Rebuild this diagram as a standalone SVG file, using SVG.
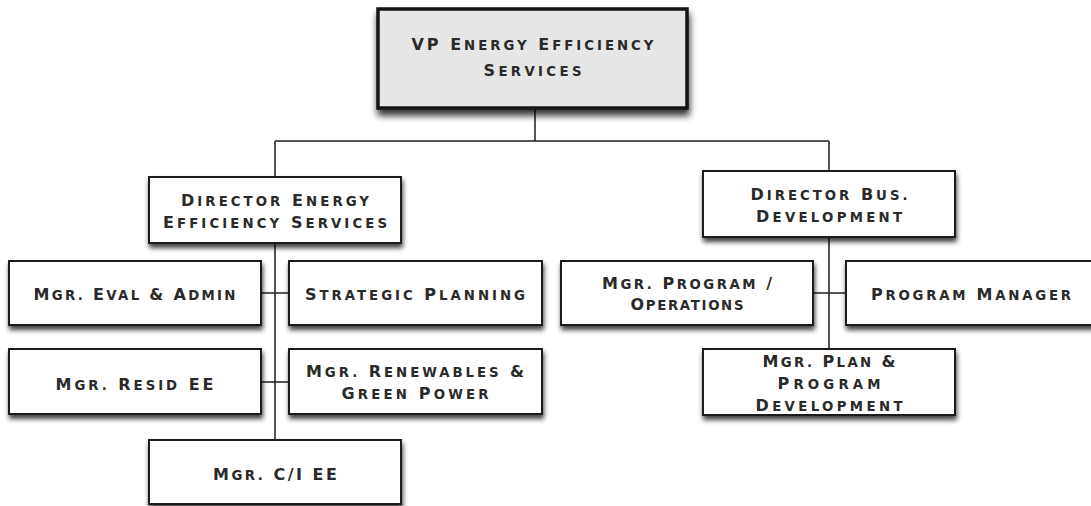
<svg xmlns="http://www.w3.org/2000/svg" width="1091" height="506" viewBox="0 0 1091 506">
  <defs>
    <filter id="shadow" x="-10%" y="-20%" width="125%" height="160%">
      <feGaussianBlur in="SourceAlpha" stdDeviation="2.6"/>
      <feOffset dx="1" dy="4" result="blur"/>
      <feComponentTransfer><feFuncA type="linear" slope="0.75"/></feComponentTransfer>
      <feMerge><feMergeNode/><feMergeNode in="SourceGraphic"/></feMerge>
    </filter>
    <filter id="shadow-lg" x="-10%" y="-20%" width="125%" height="160%">
      <feGaussianBlur in="SourceAlpha" stdDeviation="3.5"/>
      <feOffset dx="1" dy="6" result="blur"/>
      <feComponentTransfer><feFuncA type="linear" slope="0.8"/></feComponentTransfer>
      <feMerge><feMergeNode/><feMergeNode in="SourceGraphic"/></feMerge>
    </filter>
  </defs>
  <style>
    .box { fill: #ffffff; stroke: #1c1c1c; stroke-width: 2; filter: url(#shadow); }
    .top { fill: #e6e6e6; stroke: #141414; stroke-width: 3.5; filter: url(#shadow-lg); }
    .lbl { font-family: "DejaVu Sans", "Liberation Sans", sans-serif; font-size: 16px; font-weight: bold;
           fill: #2a2a2a; text-anchor: middle; }
    .s { font-size: 13.3px; }
    .wire { fill: none; stroke: #1e1e1e; stroke-width: 1.5; }
  </style>
  <rect width="1091" height="506" fill="#ffffff"/>

  <!-- connectors -->
  <g id="connectors" class="wire">
    <path d="M535 108 V141 M275 141 H829 M275 141 V177 M829 141 V171"/>
    <path d="M275 243 V440 M261 293 H289 M261 382 H289"/>
    <path d="M829 237 V349 M813 293 H846"/>
  </g>

  <!-- small-caps labels: initials at full size, remaining letters in .s -->
  <g id="vp-energy-efficiency">
    <rect class="top" x="378" y="9" width="309" height="99"/>
    <text class="lbl" x="532.5" y="50" textLength="242" lengthAdjust="spacing">VP E<tspan class="s">NERGY</tspan> E<tspan class="s">FFICIENCY</tspan></text>
    <text class="lbl" x="532.5" y="76" textLength="98" lengthAdjust="spacing">S<tspan class="s">ERVICES</tspan></text>
  </g>

  <g id="director-ee">
    <rect class="box" x="149" y="177" width="252" height="66"/>
    <text class="lbl" x="275" y="206" textLength="188" lengthAdjust="spacing">D<tspan class="s">IRECTOR</tspan> E<tspan class="s">NERGY</tspan></text>
    <text class="lbl" x="275" y="228" textLength="224" lengthAdjust="spacing">E<tspan class="s">FFICIENCY</tspan> S<tspan class="s">ERVICES</tspan></text>
  </g>

  <g id="director-bus-dev">
    <rect class="box" x="703" y="171" width="252" height="66"/>
    <text class="lbl" x="829" y="199.5" textLength="157" lengthAdjust="spacing">D<tspan class="s">IRECTOR</tspan> B<tspan class="s">US.</tspan></text>
    <text class="lbl" x="829" y="221.5" textLength="146" lengthAdjust="spacing">D<tspan class="s">EVELOPMENT</tspan></text>
  </g>

  <g id="mgr-eval-admin">
    <rect class="box" x="9" y="261" width="252" height="64"/>
    <text class="lbl" x="134.5" y="299.5" textLength="202" lengthAdjust="spacing">M<tspan class="s">GR.</tspan> E<tspan class="s">VAL</tspan> &amp; A<tspan class="s">DMIN</tspan></text>
  </g>

  <g id="strategic-planning">
    <rect class="box" x="289" y="261" width="253" height="64"/>
    <text class="lbl" x="415" y="299.5" textLength="220" lengthAdjust="spacing">S<tspan class="s">TRATEGIC</tspan> P<tspan class="s">LANNING</tspan></text>
  </g>

  <g id="mgr-resid-ee">
    <rect class="box" x="9" y="349" width="252" height="65"/>
    <text class="lbl" x="134.5" y="389.5" textLength="158" lengthAdjust="spacing">M<tspan class="s">GR.</tspan> R<tspan class="s">ESID</tspan> EE</text>
  </g>

  <g id="mgr-renewables">
    <rect class="box" x="289" y="349" width="253" height="65"/>
    <text class="lbl" x="415" y="377" textLength="218" lengthAdjust="spacing">M<tspan class="s">GR.</tspan> R<tspan class="s">ENEWABLES</tspan> &amp;</text>
    <text class="lbl" x="415" y="399" textLength="147" lengthAdjust="spacing">G<tspan class="s">REEN</tspan> P<tspan class="s">OWER</tspan></text>
  </g>

  <g id="mgr-ci-ee">
    <rect class="box" x="149" y="440" width="252" height="64"/>
    <text class="lbl" x="275" y="480" textLength="124" lengthAdjust="spacing">M<tspan class="s">GR.</tspan> C/I EE</text>
  </g>

  <g id="mgr-program-operations">
    <rect class="box" x="561" y="261" width="252" height="64"/>
    <text class="lbl" x="687" y="288.5" textLength="170" lengthAdjust="spacing">M<tspan class="s">GR.</tspan> P<tspan class="s">ROGRAM</tspan> /</text>
    <text class="lbl" x="687" y="310" textLength="113" lengthAdjust="spacing">O<tspan class="s">PERATIONS</tspan></text>
  </g>

  <g id="program-manager">
    <rect class="box" x="846" y="261" width="252" height="64"/>
    <text class="lbl" x="971" y="299.5" textLength="200" lengthAdjust="spacing">P<tspan class="s">ROGRAM</tspan> M<tspan class="s">ANAGER</tspan></text>
  </g>

  <g id="mgr-plan-program-dev">
    <rect class="box" x="703" y="349" width="252" height="66"/>
    <text class="lbl" x="829" y="367" textLength="133" lengthAdjust="spacing">M<tspan class="s">GR.</tspan> P<tspan class="s">LAN</tspan> &amp;</text>
    <text class="lbl" x="829" y="388.5" textLength="103" lengthAdjust="spacing">P<tspan class="s">ROGRAM</tspan></text>
    <text class="lbl" x="829" y="411" textLength="147" lengthAdjust="spacing">D<tspan class="s">EVELOPMENT</tspan></text>
  </g>
</svg>
